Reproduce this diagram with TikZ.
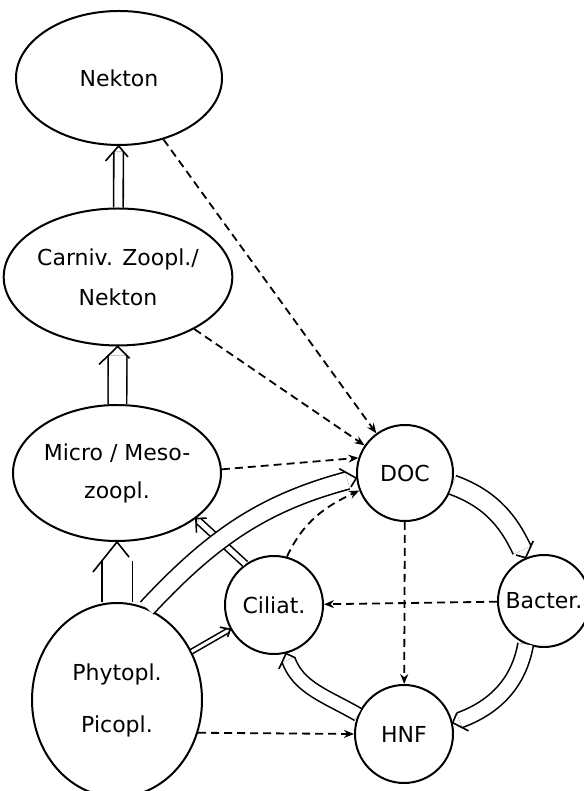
\documentclass[tikz,border=0pt]{standalone}
\usepackage{fontspec}
\setmainfont{DejaVu Sans}
\usetikzlibrary{arrows.meta,shapes.geometric,decorations.markings}

\tikzset{
  pool/.style={ellipse,draw,line width=1pt,inner sep=0pt,align=center},
  cell/.style={circle,draw,line width=1pt,inner sep=0pt,minimum size=#1},
  flux/.style={dash pattern=on 4pt off 2.5pt,line width=0.9pt,-{Stealth[length=5pt,width=4pt]}},
  feed/.style n args={3}{double,line width=0.8pt,double distance=#1,
    shorten >={#2*(#1+0.8pt)/(#3)},
    postaction={decorate,decoration={markings,mark=at position 1 with {%
      \pgfsetinnerlinewidth{0pt}\pgfsetlinewidth{0.8pt}\pgfsetmiterjoin
      \pgfpathmoveto{\pgfpoint{-#2}{#3/2}}\pgfpathlineto{\pgfpointorigin}%
      \pgfpathlineto{\pgfpoint{-#2}{-#3/2}}\pgfusepath{stroke}}}}},
}

\begin{document}
\begin{tikzpicture}[x=0.5pt,y=0.5pt,every node/.style={font=\fontsize{11}{20}\selectfont}]
\useasboundingbox (0,0) rectangle (583,791);
% food web compartments
\node[pool,minimum width=103pt,minimum height=67pt] (nek) at (119,713) {Nekton};
\node[pool,minimum width=105pt,minimum height=68.5pt] (carn) at (118,514) {Carniv. Zoopl./\\Nekton};
\node[pool,minimum width=104pt,minimum height=68pt] (micro) at (117,318) {Micro / Meso-\\[-1pt]zoopl.};
\node[pool,minimum width=85pt,minimum height=97pt] (phyto) at (117,91) {Phytopl.\\[6pt]Picopl.};
\node[cell=48pt] (doc) at (405,318) {DOC};
\node[cell=49pt] (cil) at (274,186) {Ciliat.};
\node[cell=46pt] (bac) at (544,190) {Bacter.};
\node[cell=49pt] (hnf) at (404,57) {HNF};
% grazing
\draw[feed={4pt}{7.5pt}{13pt}] (carn) -- (nek);
\draw[feed={8.5pt}{9pt}{18.5pt}] (micro) -- (carn);
\draw[feed={14.5pt}{15pt}{24pt}] (phyto) -- (micro);
\draw[feed={2.5pt}{5pt}{10pt}] (cil.125) -- (micro.-30);
\draw[feed={8pt}{7pt}{13.5pt}] (phyto.72) to[out=47,in=195] (doc.186);
\draw[feed={1.5pt}{4pt}{7pt}] (phyto.33) -- (cil.209);
% microbial loop
\draw[feed={9pt}{6pt}{14pt}] (doc.-14) to[out=-20,in=115] (bac.113);
\draw[feed={7pt}{6pt}{13pt}] (bac.-113) to[out=-100,in=20] (hnf.13);
\draw[feed={6pt}{6pt}{12pt}] (hnf.157) to[out=150,in=-70] (cil.-76);
% release of DOC
\draw[flux] (nek) -- (doc);
\draw[flux] (carn) -- (doc);
\draw[flux] (micro.2) -- (doc.162);
\draw[flux] (cil.75) to[out=65,in=205] (doc.201);
\draw[flux] (bac) -- (cil);
\draw[flux] (doc) -- (hnf);
\draw[flux] (phyto.-22) -- (hnf.west);
\end{tikzpicture}
\end{document}
